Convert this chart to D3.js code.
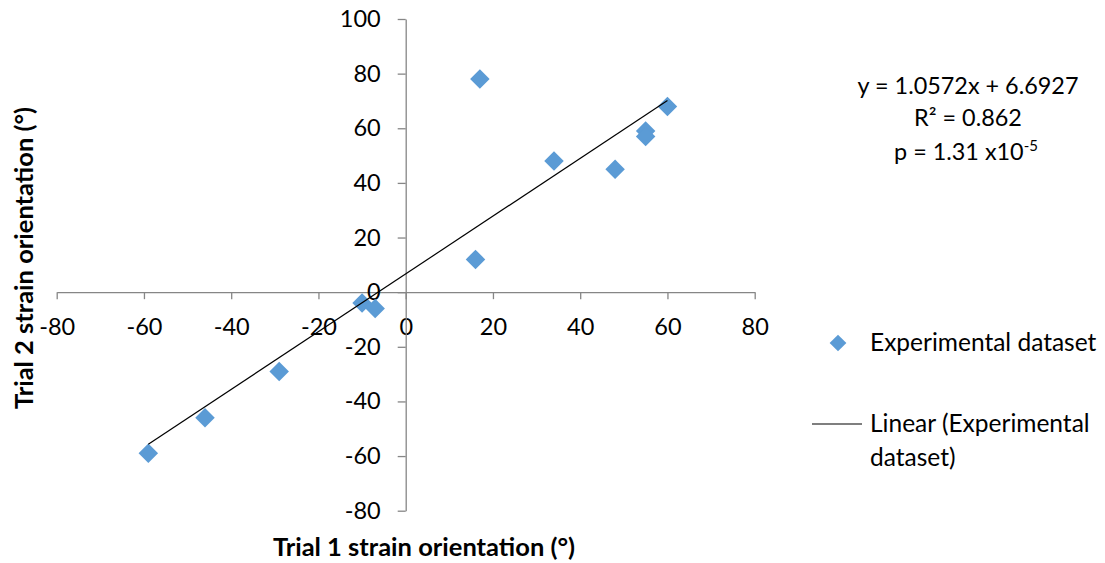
<!DOCTYPE html>
<html>
<head>
<meta charset="utf-8">
<script src="https://cdn.jsdelivr.net/npm/d3@7"></script>
<style>
  html, body { margin: 0; padding: 0; background: #fff; }
  svg text { font-family: Lato, "Open Sans", sans-serif; fill: #000; }
</style>
</head>
<body>
<svg id="chart" width="1105" height="563"></svg>
<script>
// Trial 1 vs Trial 2 strain orientations (degrees)
const trial1 = [17, 60, 55, 55, 34, 48, 16, -10, -7, -29, -46, -59];
const trial2 = [78, 68, 59, 57, 48, 45, 12, -4, -6, -29, -46, -59];

const xTicks = [-80, -60, -40, -20, 0, 20, 40, 60, 80];
const yTicks = [-80, -60, -40, -20, 0, 20, 40, 60, 80, 100];

// Least-squares fit shown as the trendline
const slope = 1.0572;
const intercept = 6.6927;
const fitLabels = ["y = 1.0572x + 6.6927", "R² = 0.862"];

const svg = d3.select("#chart");
const x = d3.scaleLinear().domain([-80, 80]).range([56.7, 754.7]);
const y = d3.scaleLinear().domain([-80, 100]).range([510.7, 19]);

const axisColor = "#868686";
const fmt = d => String(d);   // plain hyphen-minus for negatives

// x axis crosses at y = 0
const xAxis = svg.append("g")
  .attr("transform", `translate(0,${y(0)})`)
  .call(d3.axisBottom(x).tickValues(xTicks).tickFormat(fmt).tickSize(7).tickSizeOuter(0));
// y axis crosses at x = 0
const yAxis = svg.append("g")
  .attr("transform", `translate(${x(0)},0)`)
  .call(d3.axisLeft(y).tickValues(yTicks).tickFormat(fmt).tickSize(8).tickSizeOuter(0));

[xAxis, yAxis].forEach(g => {
  g.select(".domain").attr("stroke", axisColor).attr("stroke-width", 1.3);
  g.selectAll(".tick line").attr("stroke", axisColor).attr("stroke-width", 1.3);
  g.selectAll(".tick text").style("font-size", "23.5px").attr("fill", "#000");
});
xAxis.selectAll(".tick text").attr("dy", "0.35em").attr("y", 35);
yAxis.selectAll(".tick text").attr("x", -25);

// data markers
const diamond = d3.symbol().type(d3.symbolSquare).size(190);
svg.append("g").selectAll("path")
  .data(trial1.map((v, i) => [v, trial2[i]]))
  .join("path")
  .attr("d", diamond)
  .attr("fill", "#5B9BD5")
  .attr("transform", d => `translate(${x(d[0])},${y(d[1])}) rotate(45)`);

// linear trendline over the data range
const xMin = d3.min(trial1), xMax = d3.max(trial1);
svg.append("line")
  .attr("x1", x(xMin)).attr("y1", y(slope * xMin + intercept))
  .attr("x2", x(xMax)).attr("y2", y(slope * xMax + intercept))
  .attr("stroke", "#000").attr("stroke-width", 1.2);

// axis titles
svg.append("text")
  .attr("x", 424).attr("y", 556)
  .attr("text-anchor", "middle")
  .style("font-size", "25.5px").style("font-weight", "bold")
  .text("Trial 1 strain orientation (°)");
svg.append("text")
  .attr("transform", "translate(33,258) rotate(-90)")
  .attr("text-anchor", "middle")
  .style("font-size", "25.5px").style("font-weight", "bold")
  .text("Trial 2 strain orientation (°)");

// regression annotation
const ann = svg.append("g").attr("text-anchor", "middle").style("font-size", "23.4px");
ann.append("text").attr("x", 968).attr("y", 94).text(fitLabels[0]);
ann.append("text").attr("x", 968).attr("y", 126).text(fitLabels[1]);
const pText = ann.append("text").attr("x", 966).attr("y", 160);
pText.append("tspan").text("p = 1.31 x10");
pText.append("tspan").attr("dy", -9).style("font-size", "15px").text("-5");

// legend
const leg = svg.append("g").style("font-size", "24.5px");
leg.append("path")
  .attr("d", d3.symbol().type(d3.symbolSquare).size(140))
  .attr("fill", "#5B9BD5")
  .attr("transform", "translate(838,343) rotate(45)");
leg.append("text").attr("x", 870).attr("y", 351).text("Experimental dataset");
leg.append("line")
  .attr("x1", 812).attr("x2", 862).attr("y1", 424).attr("y2", 424)
  .attr("stroke", "#000").attr("stroke-width", 1.2);
leg.append("text").attr("x", 870).attr("y", 432).text("Linear (Experimental");
leg.append("text").attr("x", 870).attr("y", 466).text("dataset)");
</script>
</body>
</html>
